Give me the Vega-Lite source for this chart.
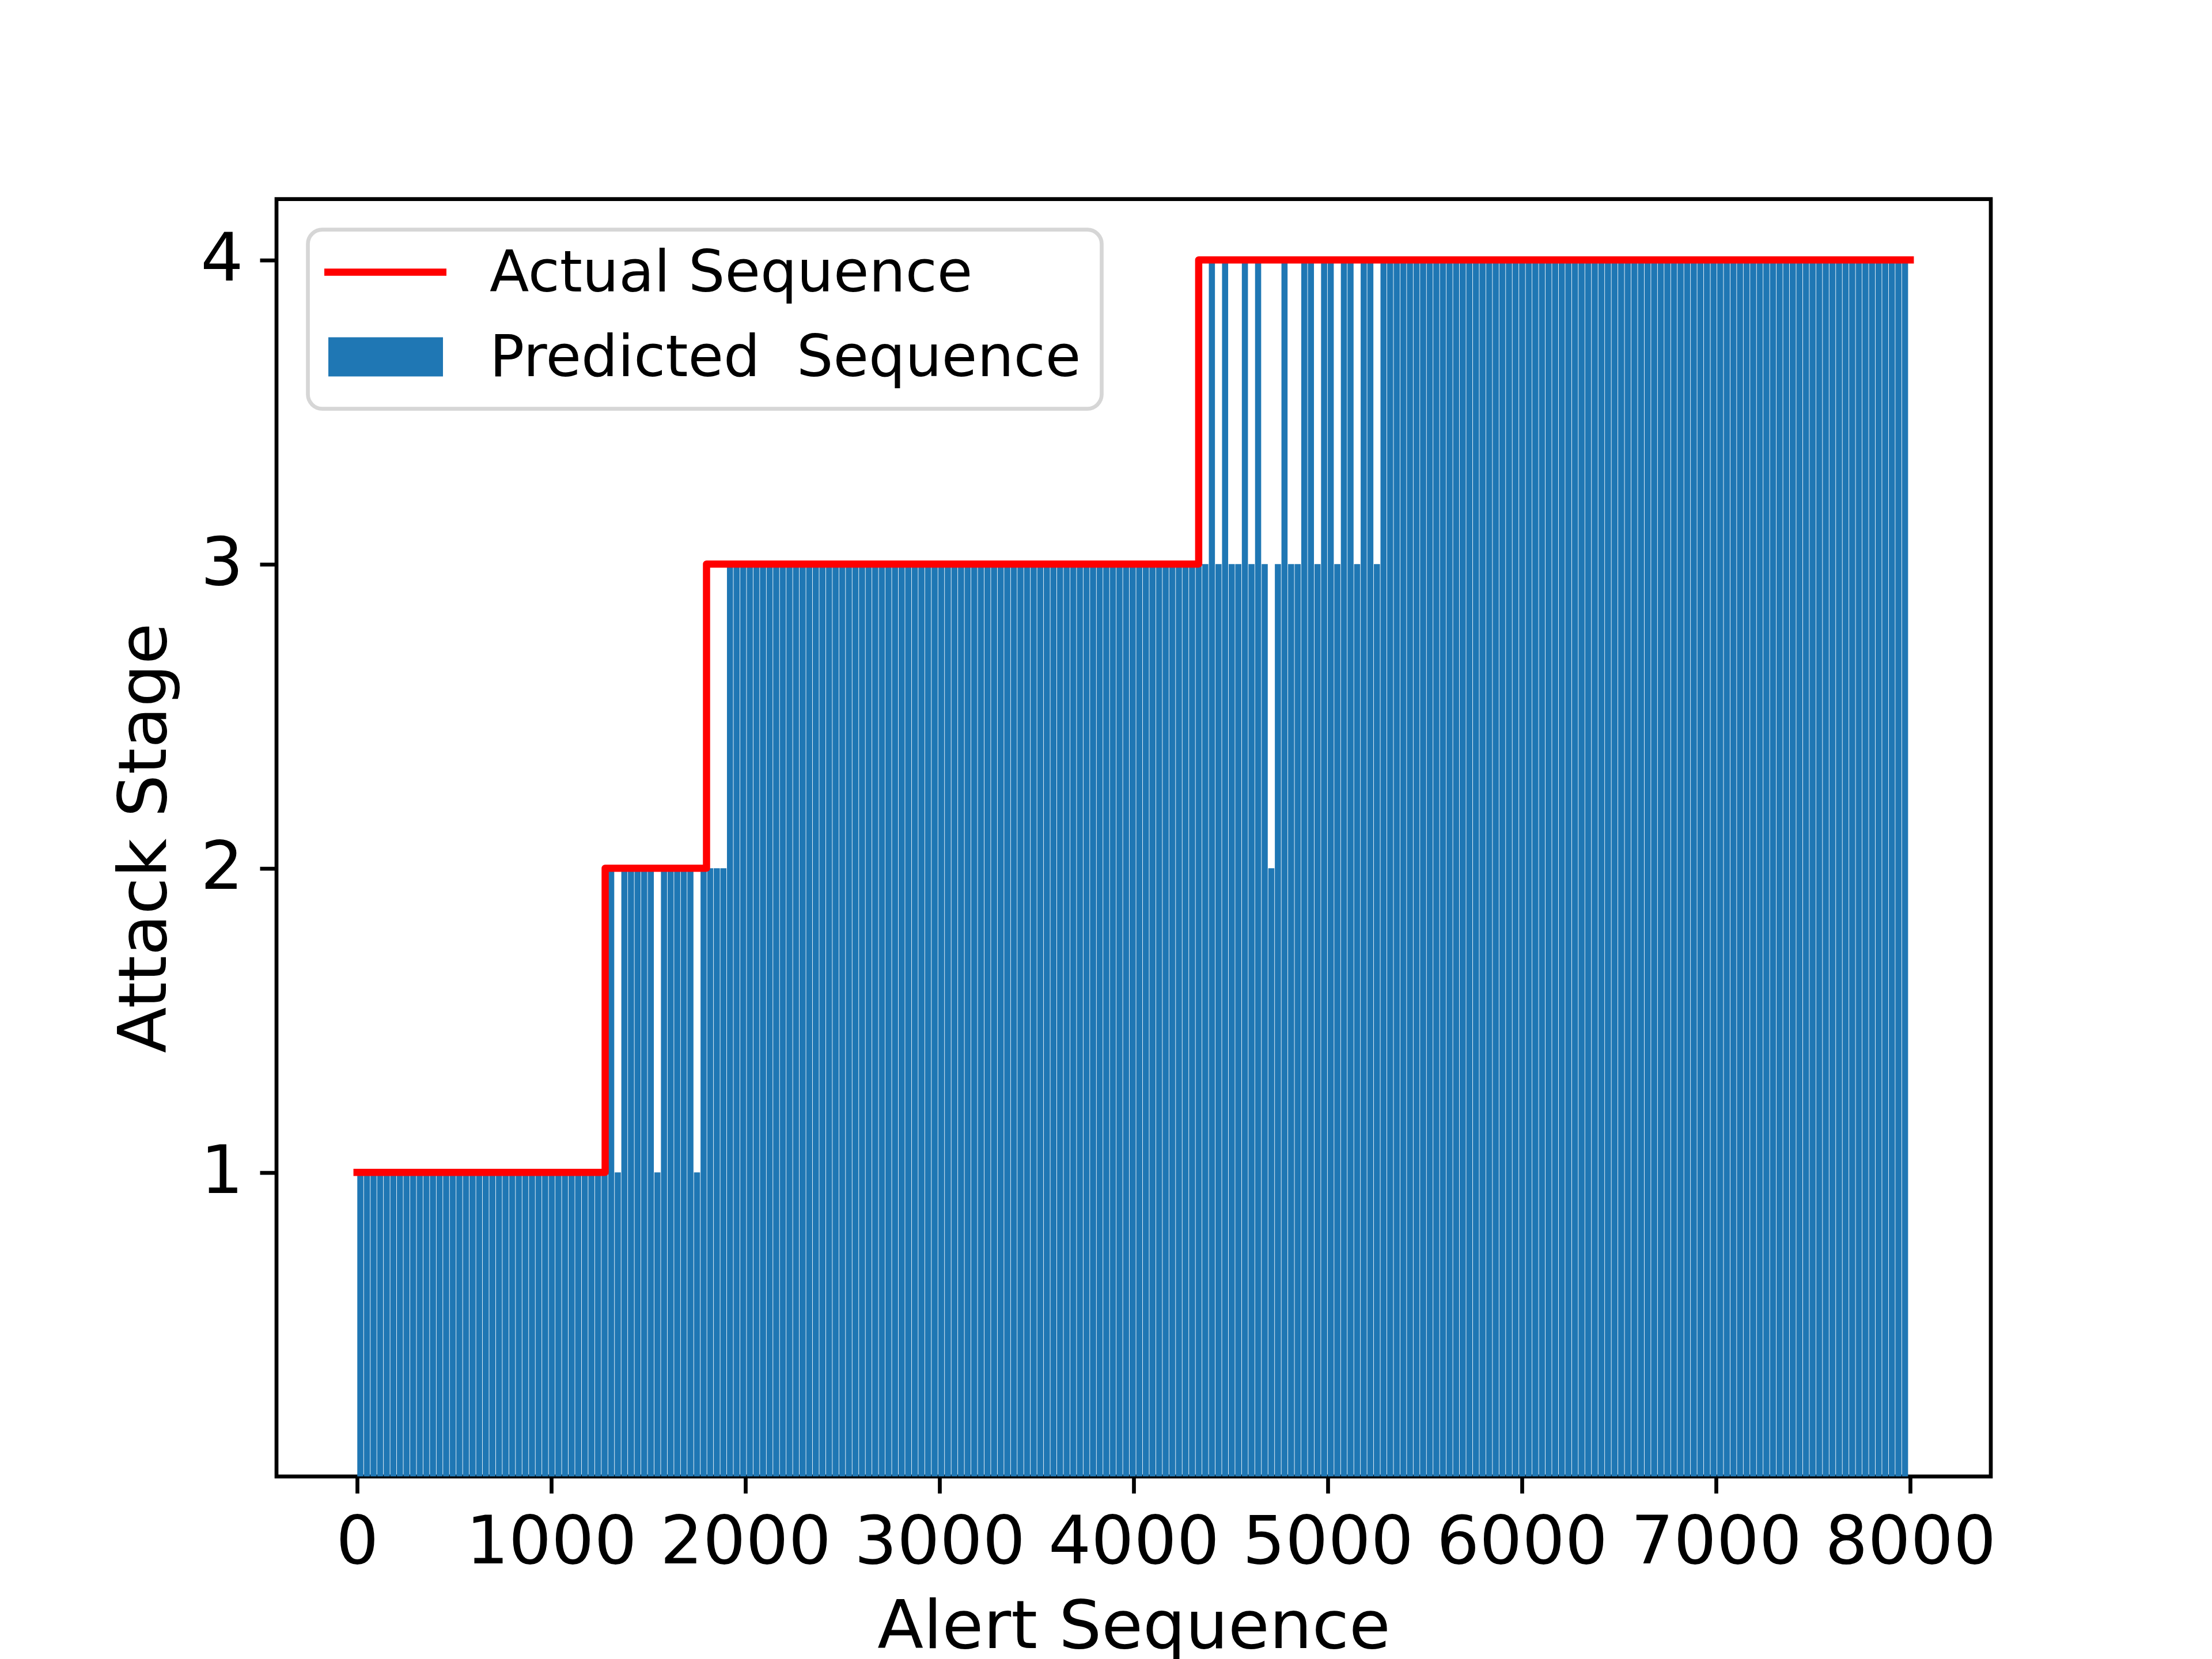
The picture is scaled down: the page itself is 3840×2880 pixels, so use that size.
{
  "$schema": "https://vega.github.io/schema/vega-lite/v6.json",
  "width": 2976,
  "height": 2217.6,
  "autosize": {"type": "none"},
  "padding": {"left": 480, "top": 345.6, "right": 384, "bottom": 316.8},
  "background": "white",
  "config": {
    "view": {"stroke": "black", "strokeWidth": 6.7},
    "font": "DejaVu Sans"
  },
  "datasets": {
    "predicted": [
      {"x":17,"p":1},{"x":51,"p":1},{"x":85,"p":1},{"x":119,"p":1},{"x":153,"p":1},{"x":187,"p":1},{"x":221,"p":1},{"x":255,"p":1},{"x":289,"p":1},{"x":323,"p":1},
      {"x":357,"p":1},{"x":391,"p":1},{"x":425,"p":1},{"x":459,"p":1},{"x":493,"p":1},{"x":527,"p":1},{"x":561,"p":1},{"x":595,"p":1},{"x":629,"p":1},{"x":663,"p":1},
      {"x":697,"p":1},{"x":731,"p":1},{"x":765,"p":1},{"x":799,"p":1},{"x":833,"p":1},{"x":867,"p":1},{"x":901,"p":1},{"x":935,"p":1},{"x":969,"p":1},{"x":1003,"p":1},
      {"x":1037,"p":1},{"x":1071,"p":1},{"x":1105,"p":1},{"x":1139,"p":1},{"x":1173,"p":1},{"x":1207,"p":1},{"x":1241,"p":1},{"x":1275,"p":1},
      {"x":1309,"p":2},{"x":1343,"p":1},{"x":1377,"p":2},{"x":1411,"p":2},{"x":1445,"p":2},{"x":1479,"p":2},{"x":1513,"p":2},{"x":1547,"p":1},{"x":1581,"p":2},{"x":1615,"p":2},
      {"x":1649,"p":2},{"x":1683,"p":2},{"x":1717,"p":2},{"x":1751,"p":1},{"x":1785,"p":2},{"x":1819,"p":2},{"x":1853,"p":2},{"x":1887,"p":2},
      {"x":1921,"p":3},{"x":1955,"p":3},{"x":1989,"p":3},{"x":2023,"p":3},{"x":2057,"p":3},{"x":2091,"p":3},{"x":2125,"p":3},{"x":2159,"p":3},{"x":2193,"p":3},{"x":2227,"p":3},
      {"x":2261,"p":3},{"x":2295,"p":3},{"x":2329,"p":3},{"x":2363,"p":3},{"x":2397,"p":3},{"x":2431,"p":3},{"x":2465,"p":3},{"x":2499,"p":3},{"x":2533,"p":3},{"x":2567,"p":3},
      {"x":2601,"p":3},{"x":2635,"p":3},{"x":2669,"p":3},{"x":2703,"p":3},{"x":2737,"p":3},{"x":2771,"p":3},{"x":2805,"p":3},{"x":2839,"p":3},{"x":2873,"p":3},{"x":2907,"p":3},
      {"x":2941,"p":3},{"x":2975,"p":3},{"x":3009,"p":3},{"x":3043,"p":3},{"x":3077,"p":3},{"x":3111,"p":3},{"x":3145,"p":3},{"x":3179,"p":3},{"x":3213,"p":3},{"x":3247,"p":3},
      {"x":3281,"p":3},{"x":3315,"p":3},{"x":3349,"p":3},{"x":3383,"p":3},{"x":3417,"p":3},{"x":3451,"p":3},{"x":3485,"p":3},{"x":3519,"p":3},{"x":3553,"p":3},{"x":3587,"p":3},
      {"x":3621,"p":3},{"x":3655,"p":3},{"x":3689,"p":3},{"x":3723,"p":3},{"x":3757,"p":3},{"x":3791,"p":3},{"x":3825,"p":3},{"x":3859,"p":3},{"x":3893,"p":3},{"x":3927,"p":3},
      {"x":3961,"p":3},{"x":3995,"p":3},{"x":4029,"p":3},{"x":4063,"p":3},{"x":4097,"p":3},{"x":4131,"p":3},{"x":4165,"p":3},{"x":4199,"p":3},{"x":4233,"p":3},{"x":4267,"p":3},
      {"x":4301,"p":3},{"x":4335,"p":3},
      {"x":4369,"p":3},{"x":4403,"p":4},{"x":4437,"p":3},{"x":4471,"p":4},{"x":4505,"p":3},{"x":4539,"p":3},{"x":4573,"p":4},{"x":4607,"p":3},{"x":4641,"p":4},{"x":4675,"p":3},
      {"x":4709,"p":2},{"x":4743,"p":3},{"x":4777,"p":4},{"x":4811,"p":3},{"x":4845,"p":3},{"x":4879,"p":4},{"x":4913,"p":4},{"x":4947,"p":3},{"x":4981,"p":4},{"x":5015,"p":4},
      {"x":5049,"p":3},{"x":5083,"p":4},{"x":5117,"p":4},{"x":5151,"p":3},{"x":5185,"p":4},{"x":5219,"p":4},{"x":5253,"p":3},{"x":5287,"p":4},{"x":5321,"p":4},{"x":5355,"p":4},
      {"x":5389,"p":4},{"x":5423,"p":4},{"x":5457,"p":4},{"x":5491,"p":4},{"x":5525,"p":4},{"x":5559,"p":4},{"x":5593,"p":4},{"x":5627,"p":4},{"x":5661,"p":4},{"x":5695,"p":4},
      {"x":5729,"p":4},{"x":5763,"p":4},{"x":5797,"p":4},{"x":5831,"p":4},{"x":5865,"p":4},{"x":5899,"p":4},{"x":5933,"p":4},{"x":5967,"p":4},{"x":6001,"p":4},{"x":6035,"p":4},
      {"x":6069,"p":4},{"x":6103,"p":4},{"x":6137,"p":4},{"x":6171,"p":4},{"x":6205,"p":4},{"x":6239,"p":4},{"x":6273,"p":4},{"x":6307,"p":4},{"x":6341,"p":4},{"x":6375,"p":4},
      {"x":6409,"p":4},{"x":6443,"p":4},{"x":6477,"p":4},{"x":6511,"p":4},{"x":6545,"p":4},{"x":6579,"p":4},{"x":6613,"p":4},{"x":6647,"p":4},{"x":6681,"p":4},{"x":6715,"p":4},
      {"x":6749,"p":4},{"x":6783,"p":4},{"x":6817,"p":4},{"x":6851,"p":4},{"x":6885,"p":4},{"x":6919,"p":4},{"x":6953,"p":4},{"x":6987,"p":4},{"x":7021,"p":4},{"x":7055,"p":4},
      {"x":7089,"p":4},{"x":7123,"p":4},{"x":7157,"p":4},{"x":7191,"p":4},{"x":7225,"p":4},{"x":7259,"p":4},{"x":7293,"p":4},{"x":7327,"p":4},{"x":7361,"p":4},{"x":7395,"p":4},
      {"x":7429,"p":4},{"x":7463,"p":4},{"x":7497,"p":4},{"x":7531,"p":4},{"x":7565,"p":4},{"x":7599,"p":4},{"x":7633,"p":4},{"x":7667,"p":4},{"x":7701,"p":4},{"x":7735,"p":4},
      {"x":7769,"p":4},{"x":7803,"p":4},{"x":7837,"p":4},{"x":7871,"p":4},{"x":7905,"p":4},{"x":7939,"p":4},{"x":7973,"p":4}
    ],
    "actual": [
      {"x":0,"a":1},{"x":1278,"a":2},{"x":1800,"a":3},{"x":4335,"a":4},{"x":8000,"a":4}
    ]
  },
  "encoding": {
    "x": {
      "type": "quantitative",
      "scale": {"domain": [-400, 8400], "nice": false, "zero": false},
      "axis": {
        "title": "Alert Sequence",
        "values": [0, 1000, 2000, 3000, 4000, 5000, 6000, 7000, 8000],
        "format": "d",
        "domain": false,
        "grid": false,
        "tickSize": 29,
        "tickWidth": 6.7,
        "tickColor": "black",
        "labelFont": "DejaVu Sans",
        "labelFontSize": 116.7,
        "labelColor": "black",
        "labelPadding": 29,
        "labelFlush": false,
        "labelOverlap": false,
        "labelLimit": 2000,
        "titleFont": "DejaVu Sans",
        "titleFontSize": 116.7,
        "titleFontWeight": "normal",
        "titleColor": "black",
        "titleBaseline": "alphabetic",
        "titleLimit": 4000,
        "titleY": 296.8
      }
    },
    "y": {
      "type": "quantitative",
      "scale": {"domain": [0, 4.2], "nice": false},
      "axis": {
        "title": "Attack Stage",
        "values": [1, 2, 3, 4],
        "format": "d",
        "domain": false,
        "grid": false,
        "tickSize": 29,
        "tickWidth": 6.7,
        "tickColor": "black",
        "labelFont": "DejaVu Sans",
        "labelFontSize": 116.7,
        "labelColor": "black",
        "labelPadding": 29,
        "labelFlush": false,
        "labelLimit": 2000,
        "titleFont": "DejaVu Sans",
        "titleFontSize": 116.7,
        "titleFontWeight": "normal",
        "titleColor": "black",
        "titleBaseline": "alphabetic",
        "titleAngle": -90,
        "titleLimit": 4000,
        "titleX": -193,
        "titleY": 1108.8
      }
    }
  },
  "layer": [
    {
      "data": {"name": "predicted"},
      "mark": {"type": "bar", "size": 10.6, "clip": true},
      "encoding": {
        "x": {"field": "x", "type": "quantitative"},
        "y": {"field": "p", "type": "quantitative"},
        "color": {"datum": "Predicted\u00a0 Sequence", "type": "nominal",
          "scale": {"domain": ["Actual Sequence", "Predicted\u00a0 Sequence"], "range": ["#ff0000", "#1f77b4"]}
        }
      }
    },
    {
      "data": {"name": "actual"},
      "mark": {"type": "line", "interpolate": "step-after", "strokeWidth": 12.5, "strokeCap": "square", "strokeJoin": "round"},
      "encoding": {
        "x": {"field": "x", "type": "quantitative"},
        "y": {"field": "a", "type": "quantitative"},
        "color": {"datum": "Actual Sequence", "type": "nominal",
          "legend": {
            "orient": "none",
            "legendX": 54.5,
            "legendY": 53,
            "title": null,
            "padding": 35.75,
            "symbolSize": 10000,
            "symbolStrokeWidth": 0,
            "labelFont": "DejaVu Sans",
            "labelFontSize": 100,
            "labelColor": "black",
            "labelOffset": 179.75,
            "labelLimit": 3000,
            "labelBaseline": "alphabetic",
            "rowPadding": 46,
            "fillColor": "white",
            "strokeColor": "#d6d6d6",
            "cornerRadius": 25,
            "encode": {
              "legend": {"update": {"strokeWidth": {"value": 6.7}}},
              "symbols": {"update": {
                "shape": {"signal": "datum.value === 'Actual Sequence' ? 'M-1.145,-0.36H3.095V-0.11H-1.145Z' : 'M-1.005,-0.915H2.975V0.445H-1.005Z'"},
                "fill": {"signal": "datum.value === 'Actual Sequence' ? '#ff0000' : '#1f77b4'"},
                "stroke": {"value": "transparent"},
                "strokeWidth": {"value": 0},
                "opacity": {"value": 1},
                "fillOpacity": {"value": 1}
              }},
              "labels": {"update": {"dy": {"value": 21.6}}}
            }
          }
        }
      }
    }
  ]
}
